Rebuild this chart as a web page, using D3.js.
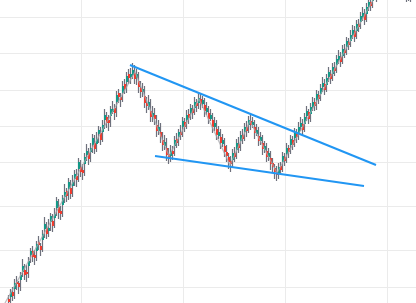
<!DOCTYPE html>
<html>
<head>
    <title>Falling Wedge</title>
    <script src="https://d3js.org/d3.v7.min.js"></script>
    <style>
        body { margin: 0; background: #fff; overflow: hidden; }
    </style>
</head>
<body>
    <script>
        // candles: [open, high, low, close], one per bar
        var candles = [
            [4, 8, -4, 1], [6, 14, -3, 11], [11, 16, 2, 7], [14, 24, 4, 20], [21, 27, 13, 19],
            [20, 22, 9, 16], [23, 31, 12, 28], [31, 44, 26, 37], [33, 39, 23, 28], [31, 38, 21, 29],
            [37, 46, 25, 42], [48, 55, 40, 52], [52, 57, 41, 46], [48, 53, 38, 45], [52, 62, 42, 59],
            [61, 67, 53, 58], [57, 60, 47, 53], [63, 73, 51, 69], [74, 86, 65, 79], [75, 81, 64, 69],
            [72, 84, 66, 75], [81, 90, 72, 87], [82, 89, 71, 77], [85, 95, 75, 89], [95, 106, 87, 102],
            [96, 104, 84, 90], [92, 97, 83, 89], [98, 108, 86, 105], [106, 119, 100, 111], [112, 115, 101, 107],
            [114, 125, 103, 121], [115, 123, 104, 109], [117, 128, 106, 121], [124, 133, 117, 129], [127, 134, 116, 123],
            [134, 145, 121, 141], [136, 143, 126, 131], [133, 139, 123, 130], [139, 150, 127, 146], [148, 159, 142, 152],
            [150, 155, 138, 144], [151, 160, 141, 155], [158, 169, 150, 165], [160, 168, 149, 154], [159, 171, 151, 164],
            [169, 177, 160, 173], [170, 176, 158, 163], [171, 183, 161, 178], [183, 194, 174, 188], [186, 191, 175, 180],
            [183, 188, 172, 180], [187, 197, 176, 194], [191, 202, 189, 194], [195, 199, 183, 190], [201, 212, 186, 208],
            [210, 214, 200, 206], [206, 210, 196, 203], [210, 222, 201, 217], [219, 224, 209, 214], [221, 231, 210, 227],
            [229, 234, 219, 225], [226, 235, 219, 229], [228, 240, 224, 233],
            // first drop
            [230, 238, 219, 224], [225, 234, 218, 229], [222, 231, 210, 216], [215, 222, 205, 211], [211, 220, 206, 214],
            [207, 217, 195, 200], [200, 206, 190, 197], [196, 208, 193, 201], [192, 204, 181, 186], [186, 197, 181, 190],
            [188, 195, 178, 184], [178, 188, 166, 172], [172, 183, 168, 176], [171, 180, 160, 166], [163, 171, 152, 158],
            [157, 168, 153, 161], [155, 165, 142, 148], [149, 155, 139, 146], [147, 158, 141, 152],
            // second leg up
            [152, 157, 143, 149], [157, 167, 147, 163], [164, 170, 155, 160], [166, 174, 157, 171], [171, 178, 163, 168],
            [176, 186, 166, 182], [181, 185, 171, 176], [183, 193, 174, 188], [189, 194, 179, 185], [190, 199, 183, 195],
            [194, 198, 184, 190], [195, 206, 188, 201], [200, 204, 191, 197], [200, 210, 194, 205], [204, 209, 193, 199],
            // second drop
            [199, 207, 195, 203], [198, 205, 186, 192], [191, 201, 188, 195], [190, 197, 179, 184], [184, 194, 182, 188],
            [183, 190, 170, 176], [176, 186, 172, 180], [174, 183, 163, 168], [167, 177, 164, 171], [166, 174, 154, 160],
            [159, 169, 156, 163], [157, 165, 146, 151], [151, 158, 141, 147], [146, 150, 134, 141], [142, 147, 131, 139],
            // third leg up
            [143, 154, 135, 150], [150, 156, 141, 146], [153, 164, 144, 160], [159, 166, 150, 155], [162, 172, 152, 168],
            [168, 174, 159, 164], [171, 180, 162, 176], [176, 182, 166, 172], [178, 187, 170, 183], [182, 189, 173, 178],
            // third drop
            [178, 186, 175, 181], [176, 183, 164, 170], [169, 179, 167, 173], [167, 176, 157, 162], [162, 171, 158, 166],
            [160, 168, 148, 154], [153, 162, 150, 157], [152, 160, 141, 146], [146, 155, 142, 150], [145, 152, 133, 139],
            [140, 145, 130, 136], [135, 139, 124, 131], [131, 137, 122, 128], [130, 140, 124, 136],
            // breakout
            [137, 141, 128, 133], [141, 151, 131, 147], [146, 150, 137, 142], [149, 160, 140, 155], [155, 158, 145, 151],
            [158, 168, 149, 164], [163, 167, 153, 158], [165, 175, 156, 170], [169, 174, 160, 166], [170, 181, 163, 176],
            [176, 186, 172, 180], [179, 184, 168, 173], [179, 190, 171, 186], [187, 197, 182, 192], [191, 194, 179, 184],
            [189, 200, 181, 196], [196, 206, 192, 201], [201, 205, 192, 197], [203, 213, 193, 209], [208, 212, 199, 204],
            [209, 219, 202, 215], [216, 226, 211, 220], [219, 224, 208, 213], [218, 229, 211, 225], [226, 236, 221, 231],
            [229, 233, 219, 224], [229, 240, 222, 236], [235, 241, 227, 232], [238, 248, 230, 244], [243, 253, 239, 247],
            [246, 251, 236, 241], [247, 258, 239, 254], [253, 259, 245, 250], [256, 266, 248, 262], [261, 265, 253, 258],
            [262, 273, 256, 268], [268, 278, 264, 273], [272, 277, 261, 266], [272, 283, 264, 279], [279, 284, 271, 276],
            [281, 291, 274, 287], [286, 296, 282, 290], [289, 294, 278, 283], [289, 300, 281, 296], [296, 306, 292, 301],
            [301, 304, 292, 297], [302, 312, 295, 308], [308, 317, 303, 312], [311, 316, 301, 306], [312, 322, 304, 318],
            [318, 326, 314, 323], [323, 329, 316, 320], [320, 333, 318, 330], [330, 336, 325, 328], [328, 339, 326, 336],
            [336, 338, 327, 330], [330, 334, 320, 323], [323, 327, 313, 316], [316, 321, 309, 318], [318, 320, 306, 310],
            [310, 315, 304, 312], [312, 314, 305, 307], [307, 313, 304, 311], [311, 316, 301, 305], [305, 312, 302, 310],
            [310, 318, 301, 314]
        ];

        // zigzag guide drawn through the pattern: [bar index, price]
        var guidePath = [[-1.5, 0], [63.5, 231], [80.5, 147], [95.5, 204], [111, 138], [121, 182], [134.5, 130], [185, 312]];

        // wedge trendlines: [bar index, price]
        var upperLine = [[61, 238], [184, 138]];
        var lowerLine = [[73.5, 147], [178, 117]];

        var priceGrid = [286, 250, 213, 177, 141, 97, 53, 16];
        var barGrid = [36.5, 87.5, 138.5, 189.5];

        var width = 416, height = 303;
        var upColor = "#0f9b88", downColor = "#f5392b", wickColor = "#6e717d";

        var svg = d3.select("body")
            .append("svg")
            .attr("width", width)
            .attr("height", height);

        var x = d3.scaleLinear().domain([0, 204]).range([8, 416]);
        var y = d3.scaleLinear().domain([0, 303]).range([303, 0]);

        // grid
        svg.append("g").selectAll("line")
            .data(priceGrid)
            .join("line")
            .attr("x1", 0).attr("x2", width)
            .attr("y1", function(d) { return Math.round(y(d)) + 0.5; })
            .attr("y2", function(d) { return Math.round(y(d)) + 0.5; })
            .attr("stroke", "#ebebeb");

        svg.append("g").selectAll("line")
            .data(barGrid)
            .join("line")
            .attr("y1", 0).attr("y2", height)
            .attr("x1", function(d) { return Math.round(x(d)) + 0.5; })
            .attr("x2", function(d) { return Math.round(x(d)) + 0.5; })
            .attr("stroke", "#ebebeb");

        // candles
        var bars = svg.append("g").selectAll("g")
            .data(candles)
            .join("g");

        bars.append("line")
            .attr("x1", function(d, i) { return x(i) + 0.5; })
            .attr("x2", function(d, i) { return x(i) + 0.5; })
            .attr("y1", function(d) { return y(d[1]); })
            .attr("y2", function(d) { return y(d[2]); })
            .attr("stroke", wickColor)
            .attr("stroke-width", 1.2);

        bars.append("rect")
            .attr("x", function(d, i) { return x(i); })
            .attr("width", 2)
            .attr("y", function(d) { return y(Math.max(d[0], d[3])); })
            .attr("height", function(d) { return Math.max(1, Math.abs(y(d[0]) - y(d[3]))); })
            .attr("fill", function(d) { return d[3] >= d[0] ? upColor : downColor; });

        var line = d3.line()
            .x(function(d) { return x(d[0]); })
            .y(function(d) { return y(d[1]); });

        svg.append("path")
            .attr("d", line(guidePath))
            .attr("fill", "none")
            .attr("stroke", "#a7a7ab")
            .attr("stroke-width", 1.3)
            .attr("opacity", 0.75);

        [upperLine, lowerLine].forEach(function(seg) {
            svg.append("path")
                .attr("d", line(seg))
                .attr("fill", "none")
                .attr("stroke", "#2196f3")
                .attr("stroke-width", 2);
        });
    </script>
</body>
</html>
